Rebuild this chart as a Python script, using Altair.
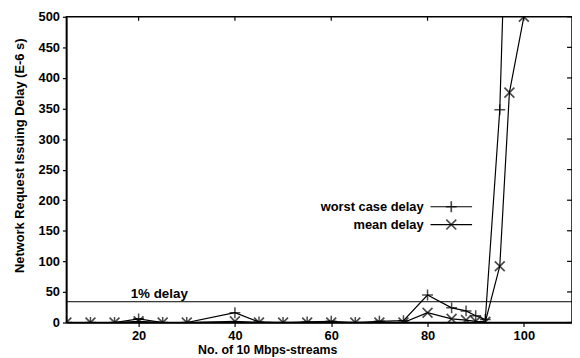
import altair as alt
import pandas as pd

streams = [5, 10, 15, 20, 25, 30, 40, 45, 50, 55, 60, 65, 70, 75, 80, 85, 88, 90, 92, 95, 97, 100]
worst = [0, 0, 0, 6, 0, 0, 16, 1, 0, 1, 2, 0, 2, 3, 45, 24, 19, 11, 5, 348, 860, 1200]
mean = [0, 0, 0, 2, 0, 0, 2, 0, 0, 0, 0, 0, 0, 0, 16, 6, 4, 2, 1, 92, 376, 500]
threshold = 34
threshold_label = "1% delay"
threshold_label_x = 20
series_names = ["worst case delay", "mean delay"]
x_ticks = [20, 40, 60, 80, 100]
y_ticks = [0, 50, 100, 150, 200, 250, 300, 350, 400, 450, 500]

df = pd.DataFrame({
    "streams": streams * 2,
    "delay": worst + mean,
    "series": [series_names[0]] * len(streams) + [series_names[1]] * len(streams),
})

FONT = "Liberation Sans"
W, H = 511, 309

PLUS = "M-1,0L1,0M0,-1L0,1"
XSHAPE = "M-1,-1L1,1M-1,1L1,-1"

xs = alt.Scale(domain=[5, 110], nice=False, zero=False)
ys = alt.Scale(domain=[0, 500], nice=False)

x_axis = alt.Axis(
    values=x_ticks, title="No. of 10 Mbps-streams", grid=False, labelOverlap=False,
    tickSize=4, labelPadding=3, titlePadding=1, titleFontSize=12.5, titleX=203)
y_axis = alt.Axis(
    values=y_ticks, title="Network Request Issuing Delay (E-6 s)", grid=False, labelOverlap=False,
    tickSize=4, labelPadding=3, titlePadding=12, titleFontSize=13, titleY=140)

X = alt.X("streams:Q", scale=xs, axis=x_axis)
Y = alt.Y("delay:Q", scale=ys, axis=y_axis)

base = alt.Chart(df)

lines = base.mark_line(color="black", strokeWidth=1.2, clip=True).encode(
    x=X, y=Y, detail="series:N")

pts_w = base.transform_filter(alt.datum.series == series_names[0]).mark_point(
    shape=PLUS, size=120, color="black", strokeWidth=1.5, filled=False, clip=True
).encode(x=X, y=Y)

pts_m = base.transform_filter(alt.datum.series == series_names[1]).mark_point(
    shape=XSHAPE, size=100, color="black", strokeWidth=1.7, filled=False, clip=True
).encode(x=X, y=Y)

thr_df = pd.DataFrame({"delay": [threshold], "streams": [threshold_label_x], "t": [threshold_label]})
thr = alt.Chart(thr_df).mark_rule(color="black", strokeWidth=1).encode(y=Y)

thr_text = alt.Chart(thr_df).mark_text(
    font=FONT, fontSize=13.5, fontWeight="bold", align="left", baseline="bottom", dx=-8, dy=-1, color="black"
).encode(x=X, y=Y, text="t:N")

# mirrored inward ticks on the right and top edges
rt = alt.Chart(pd.DataFrame({"delay": y_ticks})).mark_rule(color="black", strokeWidth=1.2).encode(
    y=Y, x=alt.value(W - 5), x2=alt.value(W))
tt = alt.Chart(pd.DataFrame({"streams": x_ticks})).mark_rule(color="black", strokeWidth=1.2).encode(
    x=X, y=alt.value(0), y2=alt.value(4))

# legend
leg_y = [192, 210]
leg_layers = []
for i, (name, shape, sz) in enumerate([(series_names[0], PLUS, 120), (series_names[1], XSHAPE, 100)]):
    d = pd.DataFrame({"name": [name]})
    leg_layers.append(alt.Chart(d).mark_text(font=FONT, fontSize=13, fontWeight="bold", align="right",
                                             baseline="middle", color="black")
                      .encode(x=alt.value(361), y=alt.value(leg_y[i]), text="name:N"))
    leg_layers.append(alt.Chart(d).mark_rule(color="black", strokeWidth=1.2)
                      .encode(x=alt.value(368), x2=alt.value(410), y=alt.value(leg_y[i])))
    leg_layers.append(alt.Chart(d).mark_point(shape=shape, size=sz, color="black", strokeWidth=1.7, filled=False)
                      .encode(x=alt.value(389), y=alt.value(leg_y[i])))

chart = alt.layer(lines, pts_w, pts_m, thr, thr_text, rt, tt, *leg_layers).properties(
    width=W, height=H,
    autosize=alt.AutoSizeParams(type="none"),
    padding={"left": 59, "top": 7, "right": 0, "bottom": 34},
).configure_view(stroke="black", strokeWidth=1.5).configure_axis(
    domainColor="black", domainWidth=1.5, tickColor="black", tickWidth=1.2,
    labelFont=FONT, labelFontSize=13, labelColor="black", labelFontWeight="bold",
    titleFont=FONT, titleColor="black", titleFontWeight="bold",
)

chart.save("out.html", embed_options={"renderer": "svg", "actions": False})
